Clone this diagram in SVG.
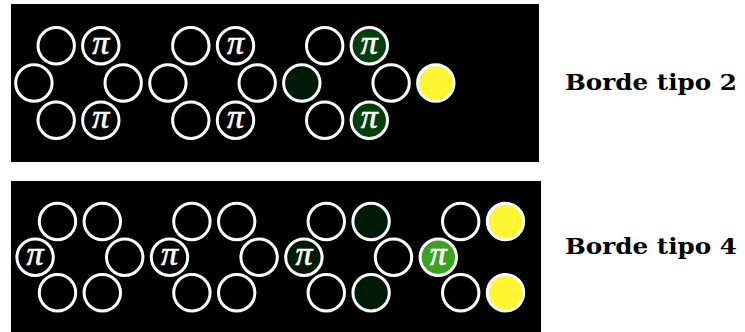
<svg xmlns="http://www.w3.org/2000/svg" width="745" height="332" viewBox="0 0 745 332">
<style>
.bg{fill:#000}
.c{stroke:#fff;stroke-width:3}
.w{fill:#000}
.d{fill:#001a08}
.g{fill:#023d0c}
.lg{fill:#3ba321}
.y{fill:#fff533}
.pi{font-family:"Liberation Serif","DejaVu Serif",serif;font-style:italic;font-size:34px;fill:#fff;stroke:#fff;stroke-width:0.6;text-anchor:middle}
.lbl{font-family:"DejaVu Serif","Liberation Serif",serif;font-weight:bold;font-size:22.5px;fill:#000}
</style>
<rect class="bg" x="11" y="4" width="528" height="158"/>
<rect class="bg" x="11" y="181" width="530" height="151"/>
<g id="connectors"/>
<!-- top panel -->
<g id="t1"><circle class="c w" cx="56.2" cy="45.8" r="18.2"/></g>
<g id="t2"><circle class="c w" cx="100.8" cy="45.8" r="18.2"/><text class="pi" x="100.8" y="54">π</text></g>
<g id="t3"><circle class="c w" cx="33.9" cy="83" r="18.2"/></g>
<g id="t4"><circle class="c w" cx="123.2" cy="83" r="18.2"/></g>
<g id="t5"><circle class="c w" cx="56.2" cy="120.2" r="18.2"/></g>
<g id="t6"><circle class="c w" cx="100.8" cy="120.2" r="18.2"/><text class="pi" x="100.8" y="128.4">π</text></g>
<g id="t7"><circle class="c w" cx="190.8" cy="45.8" r="18.2"/></g>
<g id="t8"><circle class="c w" cx="235.5" cy="45.8" r="18.2"/><text class="pi" x="235.5" y="54">π</text></g>
<g id="t9"><circle class="c w" cx="167.9" cy="83" r="18.2"/></g>
<g id="t10"><circle class="c w" cx="257.2" cy="83" r="18.2"/></g>
<g id="t11"><circle class="c w" cx="190.8" cy="120.2" r="18.2"/></g>
<g id="t12"><circle class="c w" cx="235.5" cy="120.2" r="18.2"/><text class="pi" x="235.5" y="128.4">π</text></g>
<g id="t13"><circle class="c w" cx="324.7" cy="45.8" r="18.2"/></g>
<g id="t14"><circle class="c g" cx="369.3" cy="45.8" r="18.2"/><text class="pi" x="369.3" y="54">π</text></g>
<g id="t15"><circle class="c d" cx="301.8" cy="83" r="18.2"/></g>
<g id="t16"><circle class="c w" cx="391.1" cy="83" r="18.2"/></g>
<g id="t17"><circle class="c y" cx="435.8" cy="83" r="18.2"/></g>
<g id="t18"><circle class="c w" cx="324.7" cy="120.2" r="18.2"/></g>
<g id="t19"><circle class="c g" cx="369.3" cy="120.2" r="18.2"/><text class="pi" x="369.3" y="128.4">π</text></g>
<!-- bottom panel -->
<g id="b1"><circle class="c w" cx="57.5" cy="221.5" r="18.2"/></g>
<g id="b2"><circle class="c w" cx="102.3" cy="221.5" r="18.2"/></g>
<g id="b3"><circle class="c w" cx="35.1" cy="257.2" r="18.2"/><text class="pi" x="35.1" y="265.4">π</text></g>
<g id="b4"><circle class="c w" cx="124.7" cy="257.2" r="18.2"/></g>
<g id="b5"><circle class="c w" cx="57.5" cy="292.8" r="18.2"/></g>
<g id="b6"><circle class="c w" cx="102.3" cy="292.8" r="18.2"/></g>
<g id="b7"><circle class="c w" cx="191.9" cy="221.5" r="18.2"/></g>
<g id="b8"><circle class="c w" cx="236.7" cy="221.5" r="18.2"/></g>
<g id="b9"><circle class="c w" cx="169.5" cy="257.2" r="18.2"/><text class="pi" x="169.5" y="265.4">π</text></g>
<g id="b10"><circle class="c w" cx="259.1" cy="257.2" r="18.2"/></g>
<g id="b11"><circle class="c w" cx="191.9" cy="292.8" r="18.2"/></g>
<g id="b12"><circle class="c w" cx="236.7" cy="292.8" r="18.2"/></g>
<g id="b13"><circle class="c w" cx="326.3" cy="221.5" r="18.2"/></g>
<g id="b14"><circle class="c d" cx="371.1" cy="221.5" r="18.2"/></g>
<g id="b15"><circle class="c d" cx="303.9" cy="257.2" r="18.2"/><text class="pi" x="303.9" y="265.4">π</text></g>
<g id="b16"><circle class="c w" cx="393.5" cy="257.2" r="18.2"/></g>
<g id="b17"><circle class="c w" cx="326.3" cy="292.8" r="18.2"/></g>
<g id="b18"><circle class="c d" cx="371.1" cy="292.8" r="18.2"/></g>
<g id="b19"><circle class="c w" cx="460.7" cy="221.5" r="18.2"/></g>
<g id="b20"><circle class="c y" cx="505.5" cy="221.5" r="18.2"/></g>
<g id="b21"><circle class="c lg" cx="438.3" cy="257.2" r="18.2"/><text class="pi" x="438.3" y="265.4">π</text></g>
<g id="b22"><circle class="c w" cx="460.7" cy="292.8" r="18.2"/></g>
<g id="b23"><circle class="c y" cx="505.5" cy="292.8" r="18.2"/></g>
<!-- labels -->
<g id="label1"><text class="lbl" x="565" y="90" textLength="172" lengthAdjust="spacingAndGlyphs">Borde tipo 2</text></g>
<g id="label2"><text class="lbl" x="565" y="254.3" textLength="172" lengthAdjust="spacingAndGlyphs">Borde tipo 4</text></g>
</svg>
